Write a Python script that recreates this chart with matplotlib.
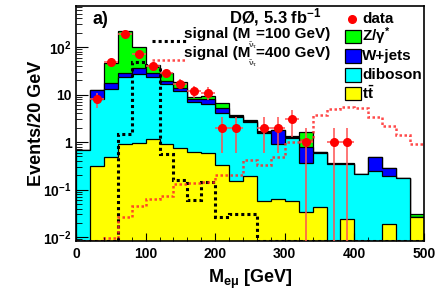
import numpy as np
import matplotlib
matplotlib.use("Agg")
import matplotlib.pyplot as plt
from matplotlib.patches import Rectangle
from matplotlib.lines import Line2D

plt.rcParams['font.family'] = ['Liberation Sans', 'DejaVu Sans']
plt.rcParams['font.weight'] = 'bold'
plt.rcParams['axes.labelweight'] = 'bold'
plt.rcParams['mathtext.fontset'] = 'custom'
plt.rcParams['mathtext.rm'] = 'Liberation Sans:bold'
plt.rcParams['mathtext.it'] = 'Liberation Sans:bold'
plt.rcParams['mathtext.bf'] = 'Liberation Sans:bold'

# 20 GeV bins, 0-500 GeV
edges = np.arange(0, 520, 20)

# backgrounds (per component, stacked: ttbar, diboson, W+jets, Z/gamma*)
ttbar = [0, 0.32, 0.48, 0.91, 0.97, 1.16, 0.91, 0.74, 0.62, 0.58, 0.33, 0.15, 0.19,
         0.057, 0.064, 0.059, 0.034, 0.043, 0, 0.024, 0, 0, 0.019, 0, 0.026]
diboson = [0.68, 7.6, 12.4, 22.1, 26.0, 21.8, 15.7, 11.3, 6.4, 5.6, 3.7, 3.15, 2.5,
           1.51, 0.87, 1.14, 0.33, 0.56, 0.34, 0.32, 0.21, 0.25, 0.176, 0.177, 0]
wjets = [0, 4.5, 4.8, 5.7, 9.6, 5.7, 2.6, 1.9, 1.0, 1.7, 1.1, 0.2, 0.05,
         0.08, 0.86, 0.1, 0.44, 0.02, 0, 0.01, 0, 0.24, 0.095, 0, 0]
zgamma = [0, 0, 29.3, 186, 63, 12.3, 9.5, 4.1, 1.0, 1.4, 1.4, 0.2, 0.15,
          0.1, 0.03, 0.04, 0.85, 0, 0.03, 0.01, 0, 0, 0, 0, 0.004]

# observed events
data = [0, 8, 49, 184, 73, 40, 28, 17, 12, 11, 2, 2, 0, 2, 2, 3, 1, 0, 1, 1, 0, 0, 0, 0, 0]

# signal histograms
sig100 = [0, 0, 0, 1.5, 49, 40, 0.55, 0.16, 0.06, 0.145, 0.027, 0.031, 0.031,
          0, 0, 0, 0, 0, 0, 0, 0, 0, 0, 0, 0]
sig400 = [0, 0, 0.0095, 0.026, 0.045, 0.062, 0.072, 0.13, 0.14, 0.145, 0.2, 0.2, 0.42,
          0.33, 0.48, 1.0, 1.1, 3.7, 4.9, 5.5, 5.1, 3.4, 2.2, 1.4, 0.9]

W, H = 436, 294
fig = plt.figure(figsize=(W / 100, H / 100), dpi=100)
ax = fig.add_axes([76 / W, 1 - 241 / H, 348 / W, 235 / H])
ymin, ymax = 0.0083, 730
floor = 1e-4

stack = np.cumsum([ttbar, diboson, wjets, zgamma], axis=0)
colors = ['#ffff00', '#00ffff', '#0000ff', '#00ff00']
for vals, c in zip(stack[::-1], colors[::-1]):
    v = np.maximum(vals, floor)
    ax.stairs(v, edges, baseline=floor, fill=True, facecolor=c, edgecolor='none')
    ax.stairs(v, edges, baseline=floor, color='black', lw=0.9)

ax.stairs(np.maximum(sig100, ymin), edges, baseline=None, color='black',
          ls=(0, (1, 1)), lw=2.2)
ax.stairs(np.maximum(sig400, ymin), edges, baseline=None, color='#ff2a2a',
          ls=(0, (1, 1)), lw=1.8, alpha=0.85)

data = np.array(data, dtype=float)
centers = 0.5 * (edges[:-1] + edges[1:])
m = data > 0
err = np.sqrt(data[m])
lo = data[m] - np.maximum(data[m] - err, floor)
ax.errorbar(centers[m], data[m], xerr=10, yerr=[lo, err], fmt='o', color='#ff0000',
            ecolor='#ff5050', ms=5.5, elinewidth=1.1, capsize=0, zorder=5)

ax.set_yscale('log')
ax.set_ylim(ymin, ymax)
ax.set_xlim(0, 500)
ax.set_yticks([1e-2, 1e-1, 1, 10, 1e2])
ax.set_yticklabels(['10$^{-2}$', '10$^{-1}$', '1', '10', '10$^{2}$'])
ax.yaxis.set_minor_locator(matplotlib.ticker.LogLocator(base=10, subs=np.arange(2, 10)))
ax.yaxis.set_minor_formatter(matplotlib.ticker.NullFormatter())
ax.set_xticks(np.arange(0, 501, 100))
ax.xaxis.set_minor_locator(matplotlib.ticker.MultipleLocator(20))
ax.tick_params(which='both', direction='in', top=False, right=False, labelsize=10)
ax.tick_params(axis='y', which='major', length=8.5, pad=3)
ax.tick_params(axis='y', which='minor', length=4.5)
ax.tick_params(axis='x', which='major', length=6, pad=4)
ax.tick_params(axis='x', which='minor', length=3)
for s in ax.spines.values():
    s.set_linewidth(1.2)

ax.set_ylabel('Events/20 GeV', fontsize=13, labelpad=-1)
ax.set_xlabel(r'M$_{\mathregular{e\mu}}$ [GeV]', fontsize=13, labelpad=5)


def fp(x, y):
    return (x / W, 1 - y / H)


fig.text(*fp(92, 19), 'a)', fontsize=13, va='center', ha='left')
fig.text(*fp(275, 17), 'DØ, 5.3 fb$^{-1}$', fontsize=12, va='center', ha='center')

# signal legend
fig.add_artist(Line2D([152 / W, 186 / W], [1 - 41 / H] * 2, color='black',
                      ls=(0, (1, 1)), lw=2.2))
fig.add_artist(Line2D([152 / W, 186 / W], [1 - 60 / H] * 2, color='#ff2a2a',
                      ls=(0, (1, 1)), lw=1.8, alpha=0.85))
fig.text(*fp(250, 34), 'signal (M', fontsize=11, va='center', ha='right')
fig.text(*fp(256, 34), '=100 GeV)', fontsize=11, va='center', ha='left')
fig.text(*fp(250, 53), 'signal (M', fontsize=11, va='center', ha='right')
fig.text(*fp(256, 53), '=400 GeV)', fontsize=11, va='center', ha='left')
fig.text(*fp(253, 46), r'$\tilde{\nu}_{\tau}$', fontsize=6, va='center', ha='center',
         color='#555555')
fig.text(*fp(253, 64), r'$\tilde{\nu}_{\tau}$', fontsize=6, va='center', ha='center',
         color='#555555')

# background legend
fig.add_artist(Line2D([352 / W], [1 - 19 / H], marker='o', color='#ff0000', ms=5.5, ls='none'))
fig.text(*fp(362, 19), 'data', fontsize=11, va='center', ha='left')
leg = [('Z/γ$^{*}$', '#00ff00', 36.5), ('W+jets', '#0000ff', 56),
       ('diboson', '#00ffff', 75), (r'$\mathregular{t\bar{t}}$', '#ffff00', 93.5)]
for lab, c, yc in leg:
    fig.add_artist(Rectangle(fp(345, yc + 6.5), 16 / W, 13 / H, facecolor=c,
                             edgecolor='black', lw=0.9, transform=fig.transFigure))
    fig.text(*fp(362, yc), lab, fontsize=11, va='center', ha='left')

fig.savefig('out.png', dpi=100)
